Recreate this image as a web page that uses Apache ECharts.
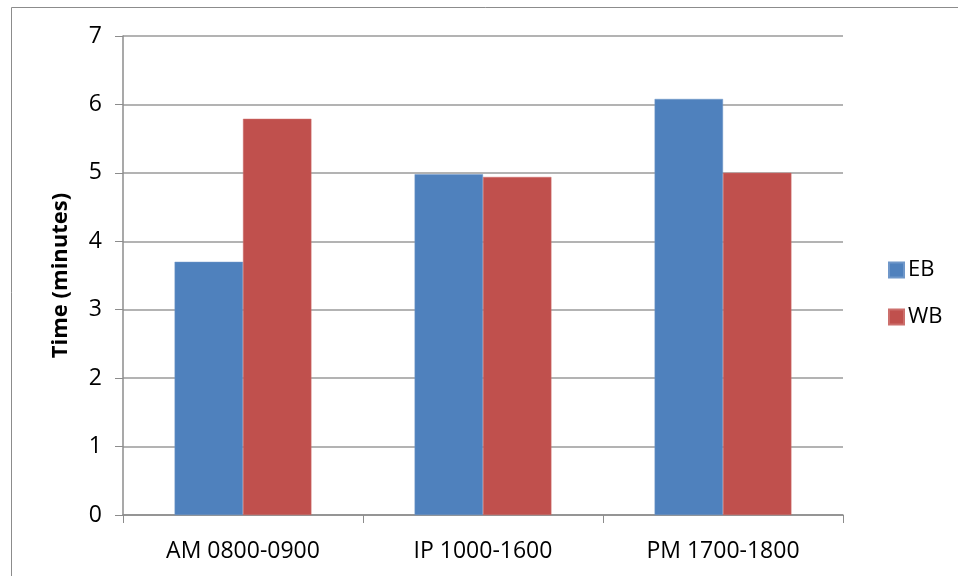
<!DOCTYPE html>
<html>
<head>
<meta charset="utf-8">
<style>
  html, body { margin: 0; padding: 0; background: #fff; }
  #chart { width: 958px; height: 576px; }
</style>
<script src="https://cdn.jsdelivr.net/npm/echarts@6/dist/echarts.min.js"></script>
</head>
<body>
<div id="chart"></div>
<script>
// Travel time by period and direction
const categories = ['AM 0800-0900', 'IP 1000-1600', 'PM 1700-1800'];
const ebValues = [3.70, 4.98, 6.08];
const wbValues = [5.79, 4.94, 5.00];
const yTicks = [0, 1, 2, 3, 4, 5, 6, 7];

const font = '"Open Sans", "Noto Sans", sans-serif';
const chart = echarts.init(document.getElementById('chart'), null, { renderer: 'canvas' });

chart.setOption({
  backgroundColor: '#ffffff',
  animation: false,
  graphic: [{
    type: 'rect',
    shape: { x: 11.5, y: 7.5, width: 1000, height: 700 },
    style: { fill: 'none', stroke: '#8c8c8c', lineWidth: 1 },
    silent: true,
    z: -1
  }],
  legend: {
    orient: 'vertical',
    left: 883,
    top: 254,
    itemWidth: 15,
    itemHeight: 15,
    itemGap: 25,
    icon: 'rect',
    textStyle: { fontFamily: font, fontSize: 22, color: '#000', padding: [0, 0, 0, -1] },
    data: ['EB', 'WB']
  },
  grid: { left: 123, right: 115, top: 36, bottom: 61, containLabel: false },
  xAxis: {
    type: 'category',
    data: categories,
    axisLine: { lineStyle: { color: '#8c8c8c', width: 1.5 } },
    axisTick: { show: true, length: 8, alignWithLabel: false, lineStyle: { color: '#8c8c8c' } },
    axisLabel: { fontFamily: font, fontSize: 23, color: '#000', margin: 25 }
  },
  yAxis: {
    type: 'value',
    min: yTicks[0],
    max: yTicks[yTicks.length - 1],
    interval: 1,
    name: 'Time (minutes)',
    nameLocation: 'middle',
    nameGap: 51,
    nameRotate: 90,
    nameTextStyle: { fontFamily: font, fontSize: 22, fontWeight: 'bold', color: '#000' },
    axisLine: { show: true, lineStyle: { color: '#8c8c8c', width: 1.5 } },
    axisTick: { show: true, length: 8, inside: false, lineStyle: { color: '#8c8c8c' } },
    axisLabel: { fontFamily: font, fontSize: 23, color: '#000', margin: 21 },
    splitLine: { show: true, lineStyle: { color: '#9a9a9a', width: 1.5 } }
  },
  series: [
    {
      name: 'EB',
      type: 'bar',
      data: ebValues,
      barGap: '0%',
      barCategoryGap: '43%',
      itemStyle: { color: '#4F81BD', borderColor: '#6f97c9', borderWidth: 0.5 }
    },
    {
      name: 'WB',
      type: 'bar',
      data: wbValues,
      itemStyle: { color: '#C0504D', borderColor: '#cc6f6c', borderWidth: 0.5 }
    }
  ]
});
</script>
</body>
</html>
